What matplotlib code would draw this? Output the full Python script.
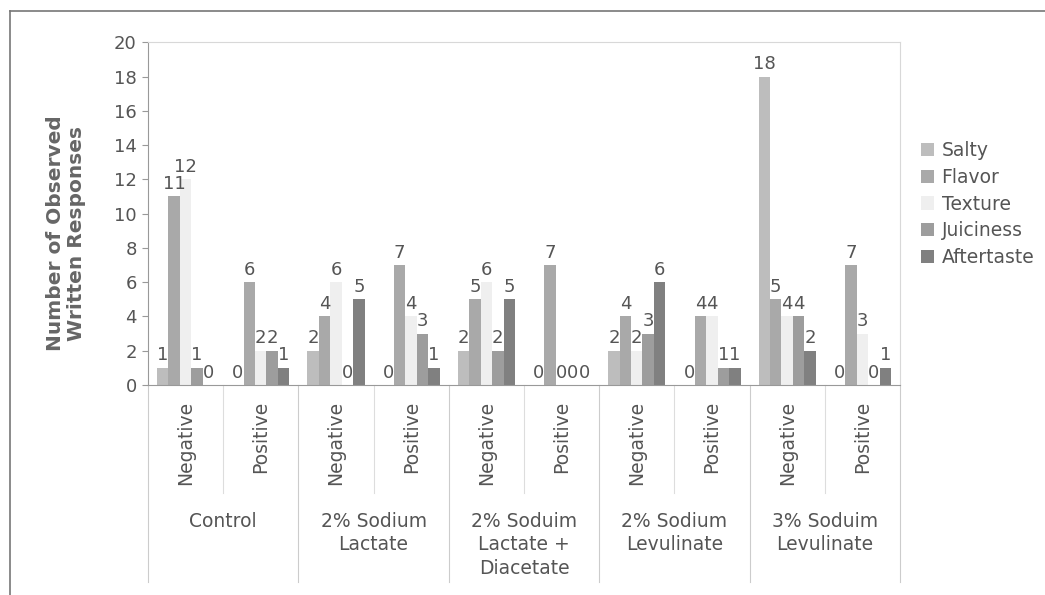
import matplotlib
matplotlib.use("Agg")
import matplotlib.pyplot as plt
import numpy as np

# data
treatments = ["Control", "2% Sodium\nLactate", "2% Soduim\nLactate +\nDiacetate",
              "2% Sodium\nLevulinate", "3% Soduim\nLevulinate"]
responses = ["Negative", "Positive"]
attributes = ["Salty", "Flavor", "Texture", "Juiciness", "Aftertaste"]

salty      = [1, 0, 2, 0, 2, 0, 2, 0, 18, 0]
flavor     = [11, 6, 4, 7, 5, 7, 4, 4, 5, 7]
texture    = [12, 2, 6, 4, 6, 0, 2, 4, 4, 3]
juiciness  = [1, 2, 0, 3, 2, 0, 3, 1, 4, 0]
aftertaste = [0, 1, 5, 1, 5, 0, 6, 1, 2, 1]

series = [salty, flavor, texture, juiciness, aftertaste]
colors = ["#bdbdbd", "#a9a9a9", "#efefef", "#9d9d9d", "#808080"]
txt = "#555555"

fig = plt.figure(figsize=(10.45, 5.95), dpi=100)
ax = fig.add_axes([0.1416, 0.353, 0.7196, 0.576])

n = len(salty)
x = np.arange(n)
w = 0.152
for i, (vals, c, name) in enumerate(zip(series, colors, attributes)):
    pos = x + (i - 2) * w
    ax.bar(pos, vals, width=w, color=c, label=name)
    for p, v in zip(pos, vals):
        ax.text(p, v + 0.2, str(v), ha="center", va="bottom", fontsize=13, color=txt)

ax.set_xlim(-0.5, n - 0.5)
ax.set_ylim(0, 20)
ax.set_yticks(range(0, 21, 2))
ax.tick_params(axis="y", labelsize=13, labelcolor=txt, color="#999999", length=4, pad=4)
ax.set_xticks([])
for s in ["top", "right"]:
    ax.spines[s].set_color("#d8d8d8")
for s in ["left", "bottom"]:
    ax.spines[s].set_color("#999999")
ax.set_ylabel("Number of Observed\nWritten Responses", fontsize=14.5, fontweight="bold",
              color="#666666", linespacing=1.15)
ax.yaxis.set_label_coords(-0.082, 0.443)

# hierarchical category axis
trans = ax.get_xaxis_transform()
for j in range(n):
    ax.text(j, -0.045, responses[j % 2], rotation=90, ha="center", va="top",
            fontsize=13.5, color=txt, transform=trans)
for k, t in enumerate(treatments):
    ax.text(2 * k + 0.5, -0.37, t, ha="center", va="top", fontsize=13.5,
            color=txt, transform=trans, linespacing=1.3)
for b in range(n + 1):
    bx = b - 0.5
    low = -0.575 if b % 2 == 0 else -0.315
    ax.plot([bx, bx], [0, low], color="#dddddd" if b % 2 else "#cccccc",
            lw=0.8, transform=trans, clip_on=False)

leg = ax.legend(loc="center left", bbox_to_anchor=(1.018, 0.528), frameon=False,
                fontsize=13.5, handlelength=0.7, handleheight=0.7, handletextpad=0.4,
                labelspacing=0.42, borderaxespad=0)
for t in leg.get_texts():
    t.set_color(txt)

# outer chart frame (left and top edges)
fig.add_artist(plt.Line2D([10 / 1045, 10 / 1045], [0, 1 - 11 / 595], color="#777777", lw=1.2))
fig.add_artist(plt.Line2D([10 / 1045, 1], [1 - 11 / 595, 1 - 11 / 595], color="#777777", lw=1.2))

fig.savefig("out.png", dpi=100)
